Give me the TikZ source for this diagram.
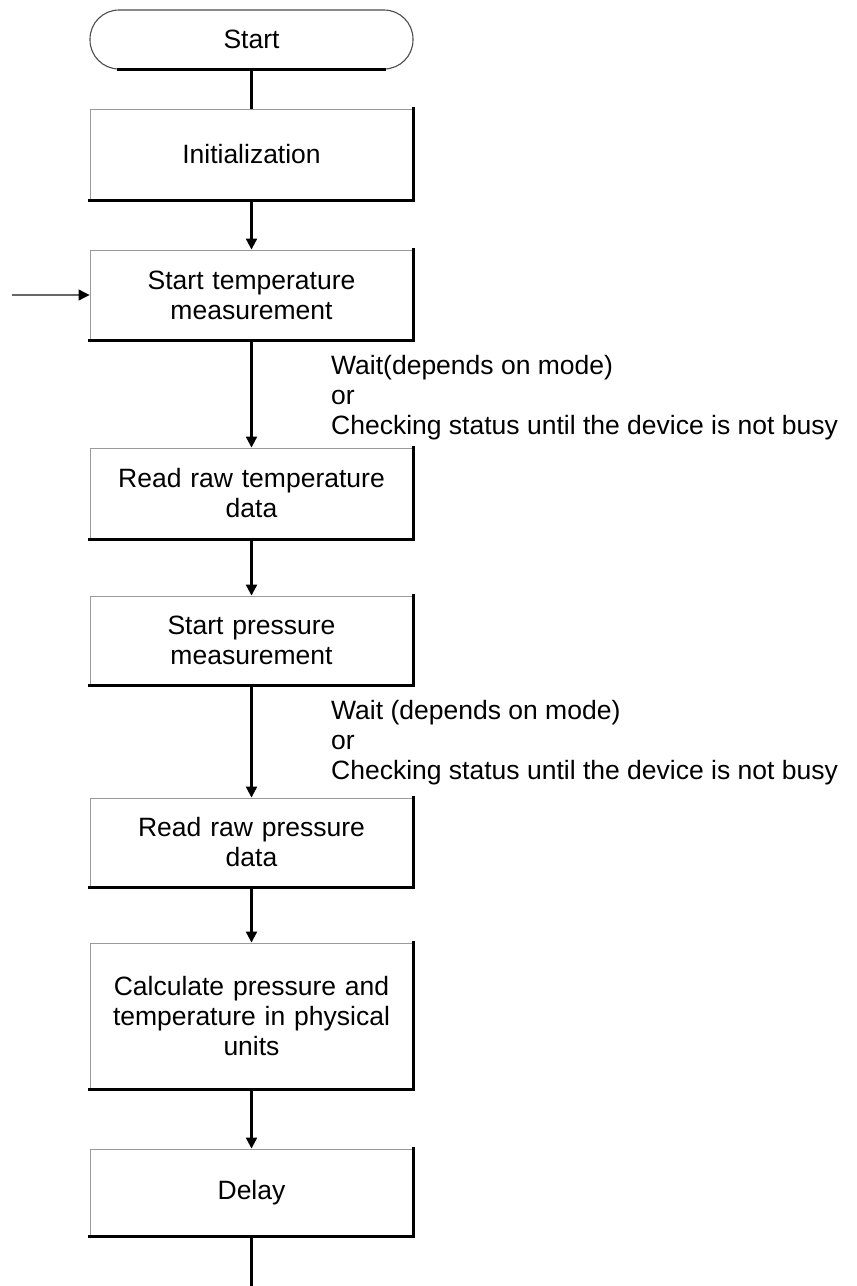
\documentclass[tikz,border=0pt]{standalone}
\usepackage{fontspec}
\setmainfont{Liberation Sans}
\usetikzlibrary{arrows.meta}
\tikzset{
  x=1pt, y=-1pt,
  procbox/.style={draw=black!40, line width=0.9pt, rectangle, minimum width=323pt,
    inner sep=4pt, align=center, font=\fontsize{26.5}{30}\selectfont, text width=310pt},
  termbox/.style={draw=black!70, line width=1.1pt, rectangle, rounded corners=29pt,
    minimum width=323pt, minimum height=59pt, font=\fontsize{26.5}{30}\selectfont},
  edgeline/.style={line width=2.2pt, line cap=rect, black},
  flow/.style={line width=2.2pt, -{Triangle[length=11pt, width=11pt]}},
  plainflow/.style={line width=2.2pt},
  lbl/.style={anchor=west, align=left, font=\fontsize{26.5}{30}\selectfont, inner sep=0pt}
}
\begin{document}
\begin{tikzpicture}
\useasboundingbox (0,0) rectangle (857,1286);
\node[termbox] (start) at (251.5,39.5) {Start};
\draw[edgeline] ([xshift=29pt]start.south west) -- ([xshift=-29pt]start.south east);
\node[procbox, minimum height=91pt] (init) at (251.5,154.5) {Initialization};
\node[procbox, minimum height=90pt] (stemp) at (251.5,295) {Start temperature\\measurement};
\node[procbox, minimum height=91pt] (rtemp) at (251.5,493.5) {Read raw temperature\\data};
\node[procbox, minimum height=89pt] (spres) at (251.5,640.5) {Start pressure\\measurement};
\node[procbox, minimum height=89pt] (rpres) at (251.5,842.5) {Read raw pressure\\data};
\node[procbox, minimum height=146pt] (calc) at (251.5,1016) {Calculate pressure and\\temperature in physical\\units};
\node[procbox, minimum height=87pt] (delay) at (251.5,1192.5) {Delay};
\foreach \n in {init,stemp,rtemp,spres,rpres,calc,delay}{
  \draw[edgeline] (\n.south west) -- (\n.south east) -- (\n.north east);
}
\coordinate (loopin) at (12,295);
\coordinate (loopout) at (251.5,1286);
\node[lbl] (w1) at (331,398) {Wait(depends on mode)\\or\\Checking status until the device is not busy};
\node[lbl] (w2) at (331,743) {Wait (depends on mode)\\or\\Checking status until the device is not busy};
\draw[plainflow] (start) -- (init);
\draw[flow] (init) -- (stemp);
\draw[flow] (stemp) -- (rtemp);
\draw[flow] (rtemp) -- (spres);
\draw[flow] (spres) -- (rpres);
\draw[flow] (rpres) -- (calc);
\draw[flow] (calc) -- (delay);
\draw[plainflow] (delay) -- (loopout);
\draw[line width=1.2pt, black!60, -{Triangle[length=11pt, width=11pt, color=black]}] (loopin) -- (stemp.west);
\end{tikzpicture}
\end{document}
